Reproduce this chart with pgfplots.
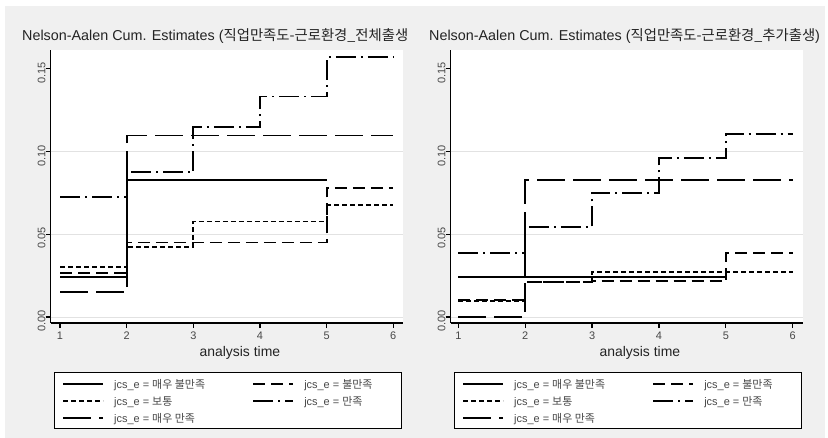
\documentclass[border=0pt]{standalone}
\usepackage{fontspec}
\setmainfont{Liberation Sans}
\newfontfamily\kr{Noto Sans CJK KR}
\usepackage{pgfplots}
\pgfplotsset{compat=1.18}
\definecolor{bggray}{RGB}{240,240,240}
\definecolor{gridgray}{RGB}{226,226,226}
\definecolor{txt}{RGB}{72,72,72}
\definecolor{ttl}{RGB}{35,35,35}
\newcommand{\la}[1]{\makebox[148.3bp][l]{\hspace*{10bp}#1}}
\newcommand{\lb}[1]{\makebox[99.6bp][l]{\hspace*{10bp}#1}}
\pgfplotsset{
  nastyle/.style={
    scale only axis, width=352.3bp, height=273bp,
    xmin=0.86, xmax=6.146, ymin=-0.0036, ymax=0.1614,
    axis x line*=bottom, axis y line*=left,
    axis line style={-, line width=1.4bp, black},
    axis background/.style={fill=white},
    xtick={1,2,3,4,5,6}, ytick={0,0.05,0.1,0.15},
    scaled y ticks=false,
    extra y ticks={0,0.05,0.1}, extra y tick labels={},
    extra y tick style={grid=major, major tick length=0pt},
    grid style={gridgray, line width=1bp},
    tick align=outside, major tick length=5bp,
    tick style={black, line width=1.2bp},
    /pgf/number format/assume math mode=true,
    yticklabel style={/pgf/number format/fixed, /pgf/number format/fixed zerofill, /pgf/number format/precision=2,
      rotate=90, anchor=south, inner sep=0pt, xshift=-4bp, font=\fontsize{11}{12}\selectfont, text=txt},
    xticklabel style={anchor=north, inner sep=0pt, yshift=-4bp, font=\fontsize{11}{12}\selectfont, text=txt},
    xlabel={analysis time},
    xlabel style={at={(axis description cs:0.537,0)}, anchor=base, inner sep=0pt, yshift=-33.5bp, font=\fontsize{14}{16}\selectfont, text=ttl},
    title style={anchor=base west, inner sep=0pt, font=\fontsize{14.4}{16}\selectfont, text=ttl},
    legend columns=2,
    legend cell align=left,
    legend image code/.code={\draw[#1] (0bp,0bp) -- (40bp,0bp);},
    legend style={at={(axis description cs:0.0094,-0.1795)}, anchor=north west,
      draw=black, line width=1.3bp, fill=white, inner xsep=7.7bp, inner ysep=2.5bp,
      column sep=0pt,
      nodes={inner sep=0pt, text height=13bp, text depth=4bp, text=txt, font=\fontsize{11}{12}\selectfont}},
  },
  s1/.style={black, line width=1.8bp, solid},
  s2/.style={black, line width=1.8bp, dash pattern=on 12bp off 6bp},
  s3/.style={black, line width=1.8bp, dash pattern=on 5bp off 3bp},
  s4/.style={black, line width=1.8bp, dash pattern=on 20bp off 5bp on 2bp off 5bp},
  s5/.style={black, line width=1.8bp, dash pattern=on 28bp off 8bp},
}
\begin{document}
\begin{tikzpicture}
\useasboundingbox (0,0) rectangle (828bp,438bp);
\fill[white] (0,0) rectangle (828bp,438bp);
\fill[bggray] (5bp,0) rectangle (825bp,432bp);
% left panel
\begin{axis}[nastyle, at={(50.7bp,115bp)}, anchor=south west,
  title={Nelson-Aalen Cum. Estimates ({\kr 직업만족도-근로환경\_전체출생}},
  title style={at={(axis description cs:-0.0815,1.0128)}}]
\addplot[s1, const plot] coordinates {(1,0.0244) (2,0.0829) (5,0.0829)};
\addlegendentry{\la{jcs\_e = {\kr 매우 불만족}}}
\addplot[s2, const plot] coordinates {(1,0.0268) (2,0.0450) (5,0.0782) (6,0.0782)};
\addlegendentry{\lb{jcs\_e = {\kr 불만족}}}
\addplot[s3, const plot] coordinates {(1,0.0304) (2,0.0425) (3,0.0577) (5,0.0678) (6,0.0678)};
\addlegendentry{\la{jcs\_e = {\kr 보통}}}
\addplot[s4, const plot] coordinates {(1,0.0724) (2,0.0875) (3,0.1148) (4,0.1333) (5,0.1571) (6,0.1571)};
\addlegendentry{\lb{jcs\_e = {\kr 만족}}}
\addplot[s5, const plot] coordinates {(1,0.0149) (2,0.1097) (6,0.1097)};
\addlegendentry{\la{jcs\_e = {\kr 매우 만족}}}
\end{axis}
% right panel background to clip left title
\fill[bggray] (413bp,380bp) rectangle (430bp,410bp);
\begin{axis}[nastyle, at={(450.7bp,115bp)}, anchor=south west,
  xmin=0.886, xmax=6.154,
  title={Nelson-Aalen Cum. Estimates ({\kr 직업만족도-근로환경\_추가출생})},
  title style={at={(axis description cs:-0.0616,1.0128)}}]
\addplot[s1, const plot] coordinates {(1,0.0244) (5,0.0244)};
\addlegendentry{\la{jcs\_e = {\kr 매우 불만족}}}
\addplot[s2, const plot] coordinates {(1,0.0103) (2,0.0214) (3,0.0216) (5,0.0389) (6,0.0389)};
\addlegendentry{\lb{jcs\_e = {\kr 불만족}}}
\addplot[s3, const plot] coordinates {(1,0.0097) (2,0.0214) (3,0.0274) (6,0.0274)};
\addlegendentry{\la{jcs\_e = {\kr 보통}}}
\addplot[s4, const plot] coordinates {(1,0.0389) (2,0.0543) (3,0.0752) (4,0.0960) (5,0.1107) (6,0.1107)};
\addlegendentry{\lb{jcs\_e = {\kr 만족}}}
\addplot[s5, const plot] coordinates {(1,0.0000) (2,0.0829) (6,0.0829)};
\addlegendentry{\la{jcs\_e = {\kr 매우 만족}}}
\end{axis}
\end{tikzpicture}
\end{document}
